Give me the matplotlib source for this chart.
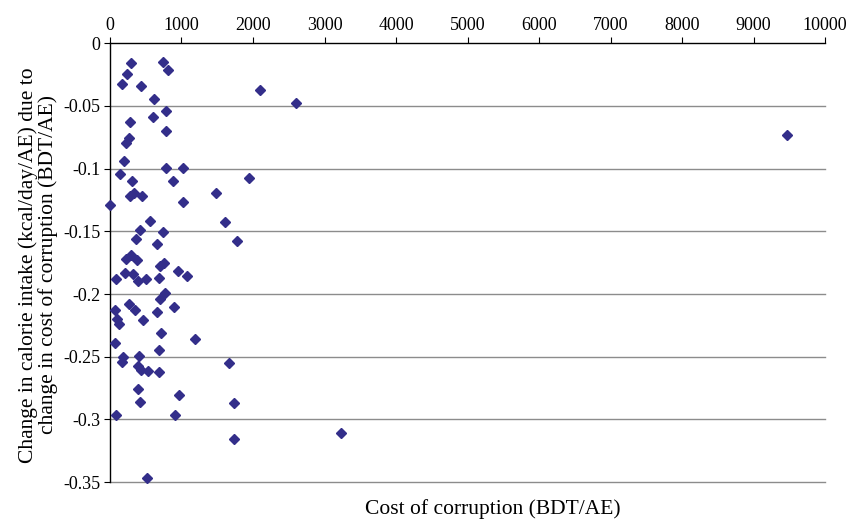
import numpy as np
import matplotlib.pyplot as plt

# Kostnad ved korrupsjon (BDT/AE) og endring i kaloriinntak
cost = [294, 737, 807, 242, 163, 429, 2098, 2601, 615, 788, 280, 597, 783, 261, 224,
        191, 788, 1016, 145, 1949, 312, 881, 1483, 280, 331, 452, 1021, 0, 1613, 559,
        424, 741, 1781, 359, 653, 294, 219, 373, 755, 699, 956, 1081, 210, 322, 79,
        387, 503, 690, 774, 694, 261, 350, 74, 895, 653, 102, 466, 121, 709, 1189,
        70, 685, 410, 177, 172, 1669, 396, 429, 536, 690, 396, 969, 415, 1734, 88,
        909, 1734, 522, 3226, 9470]
change = [-0.0157, -0.0152, -0.0216, -0.0248, -0.0323, -0.0341, -0.0371, -0.0474,
          -0.0443, -0.0539, -0.0626, -0.0586, -0.0698, -0.0759, -0.0799, -0.0938,
          -0.0996, -0.0994, -0.1042, -0.1071, -0.1095, -0.1095, -0.1193, -0.122,
          -0.1198, -0.1215, -0.1268, -0.1286, -0.1427, -0.1417, -0.1492, -0.1505,
          -0.1577, -0.1563, -0.1598, -0.1691, -0.1718, -0.1731, -0.1753, -0.1779,
          -0.1819, -0.1859, -0.183, -0.1843, -0.1878, -0.19, -0.1883, -0.187,
          -0.1993, -0.2038, -0.2083, -0.2131, -0.2128, -0.2104, -0.2144, -0.2197,
          -0.221, -0.2237, -0.2309, -0.2357, -0.2392, -0.2443, -0.2496, -0.2504,
          -0.2544, -0.2547, -0.2571, -0.2605, -0.2616, -0.2624, -0.2757, -0.2802,
          -0.2864, -0.2866, -0.2962, -0.2962, -0.3154, -0.347, -0.3111, -0.0733]

x_ticks = [0, 1000, 2000, 3000, 4000, 5000, 6000, 7000, 8000, 9000, 10000]
y_ticks = [0, -0.05, -0.1, -0.15, -0.2, -0.25, -0.3, -0.35]
y_ticklabels = ['0', '-0.05', '-0.1', '-0.15', '-0.2', '-0.25', '-0.3', '-0.35']

plt.rcParams['font.family'] = ['Liberation Serif', 'DejaVu Serif']

fig = plt.figure(figsize=(8.56, 5.22), dpi=100)
ax = fig.add_axes([0.1285, 0.0766, 0.8353, 0.8404])

# horisontale rutenettlinjer
for yv in y_ticks[1:]:
    ax.axhline(yv, color='#8c8c8c', linewidth=1.0, zorder=1, clip_on=False)

ax.plot(cost, change, linestyle='none', marker='D', markersize=5.6,
        color='#332e8a', zorder=3, clip_on=False)

ax.set_xlim(0, 10000)
ax.set_ylim(-0.35, 0)
ax.xaxis.tick_top()
ax.set_xticks(x_ticks)
ax.set_xticklabels([str(v) for v in x_ticks])
ax.set_yticks(y_ticks)
ax.set_yticklabels(y_ticklabels)
ax.tick_params(axis='both', labelsize=13, length=4, width=0.8, colors='black', pad=3)
ax.tick_params(axis='x', direction='out')

for side in ['right', 'bottom']:
    ax.spines[side].set_visible(False)
for side in ['left', 'top']:
    ax.spines[side].set_linewidth(1.0)
    ax.spines[side].set_color('black')

ax.set_xlabel('Cost of corruption (BDT/AE)', fontsize=15.5)
ax.xaxis.set_label_position('bottom')
ax.xaxis.set_label_coords(0.536, -0.038)
ax.set_ylabel('Change in calorie intake (kcal/day/AE) due to\nchange in cost of corruption (BDT/AE)',
              fontsize=15.5, linespacing=1.0)
ax.yaxis.set_label_coords(-0.073, 0.495)

fig.savefig('out.png', dpi=100)
